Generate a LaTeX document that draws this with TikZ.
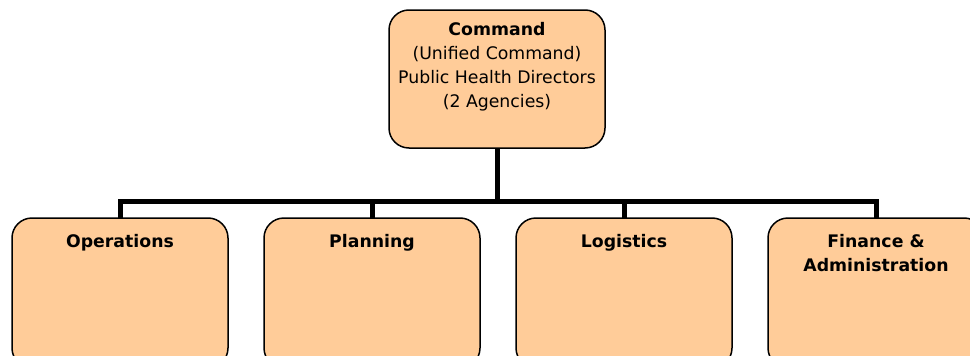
\documentclass[tikz,border=0pt]{standalone}
\usepackage{fontspec}
\setmainfont{DejaVu Sans}
\begin{document}
\begin{tikzpicture}[x=1pt,y=-1pt,
  orgbox/.style={draw=black, line width=1.5pt, fill=boxfill, rounded corners=20pt,
    minimum width=216pt, inner sep=0pt, outer sep=0pt},
  lbl/.style={font=\fontsize{17.3}{24}\selectfont, align=center, inner sep=0pt, anchor=base},
  link/.style={line width=5pt, line join=miter}]
\definecolor{boxfill}{HTML}{FFCC99}
\useasboundingbox (0,0) rectangle (970,356);
% command box
\node[orgbox, minimum height=138pt] (cmd) at (497,79) {};
% label anchored at the baseline of its last line
\node[lbl] (cmdtxt) at (497,107) {\textbf{Command}\\(Unified Command)\\Public Health Directors\\(2 Agencies)};
% section boxes
\node[orgbox, minimum height=150pt] (ops) at (120,293) {};
\node[orgbox, minimum height=150pt] (pln) at (372,293) {};
\node[orgbox, minimum height=150pt] (log) at (624,293) {};
\node[orgbox, minimum height=150pt] (fin) at (876,293) {};
\node[lbl] (opstxt) at (120,247) {\textbf{Operations}};
\node[lbl] (plntxt) at (372,247) {\textbf{Planning}};
\node[lbl] (logtxt) at (624,247) {\textbf{Logistics}};
\node[lbl] (fintxt) at (876,271) {\textbf{Finance \&}\\\textbf{Administration}};
% connectors
\coordinate (bus) at (497,201);
\draw[link] (cmd.south) -- (bus);
\draw[link] (ops.north) |- (bus) -| (fin.north);
\draw[link] (pln.north) -- (pln.north |- bus);
\draw[link] (log.north) -- (log.north |- bus);
\end{tikzpicture}
\end{document}
